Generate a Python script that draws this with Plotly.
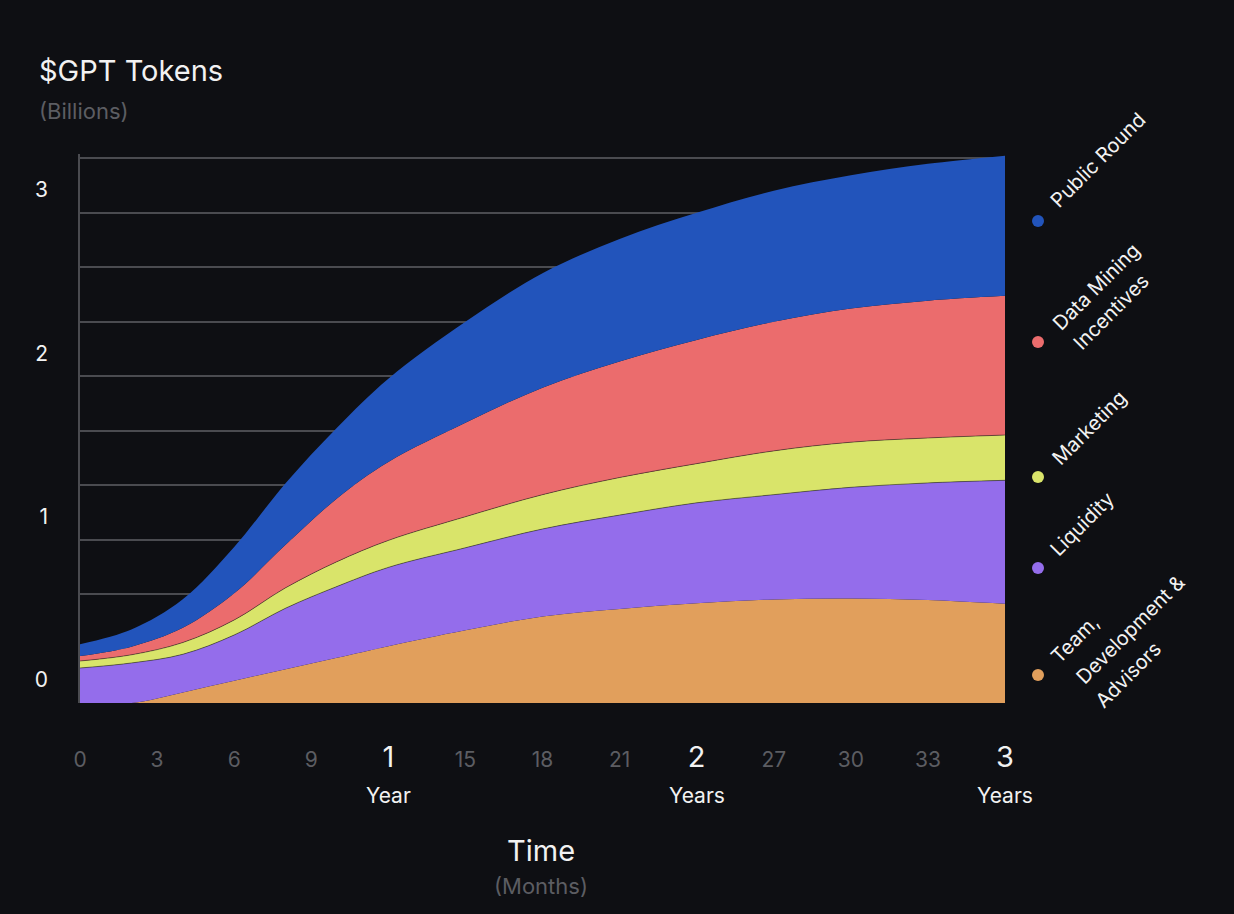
import plotly.graph_objects as go

# months since launch
months = [0, 2, 4, 6, 8, 10, 12, 15, 18, 21, 24, 27, 30, 33, 36]

# $GPT tokens per allocation (billions), bottom to top of the stack
team = [0, 0, 0.065, 0.136, 0.207, 0.277, 0.348, 0.445, 0.53, 0.576, 0.61, 0.634, 0.64, 0.63, 0.607]
liquidity = [0.214, 0.245, 0.233, 0.28, 0.373, 0.436, 0.482, 0.505, 0.535, 0.574, 0.615, 0.641, 0.68, 0.717, 0.756]
marketing = [0.043, 0.05, 0.072, 0.092, 0.125, 0.152, 0.165, 0.19, 0.21, 0.23, 0.24, 0.268, 0.276, 0.275, 0.277]
data_mining = [0.03, 0.05, 0.09, 0.163, 0.263, 0.387, 0.48, 0.575, 0.655, 0.71, 0.757, 0.79, 0.818, 0.84, 0.852]
public_round = [0.073, 0.105, 0.175, 0.284, 0.377, 0.433, 0.51, 0.618, 0.70, 0.75, 0.778, 0.802, 0.816, 0.838, 0.858]

x_ticks = [0, 3, 6, 9, 12, 15, 18, 21, 24, 27, 30, 33, 36]
year_ticks = {12: ("1", "Year"), 24: ("2", "Years"), 36: ("3", "Years")}
y_ticks = [0, 1, 2, 3]

BG = "#0e0f13"
GRID = "#4a4b50"
GRAY = "#5c5d62"
WHITE = "#f2f2f2"
FONT = "Inter"

series = [
    ("Team, Development & Advisors", team, "#e19f5c", 0),
    ("Liquidity", liquidity, "#946deb", 0.6),
    ("Marketing", marketing, "#d9e46a", 0.6),
    ("Data Mining Incentives", data_mining, "#eb6c6d", 0),
    ("Public Round", public_round, "#2254bb", 0),
]

fig = go.Figure()
for name, vals, color, lw in series:
    fig.add_trace(go.Scatter(
        x=months, y=vals, name=name,
        stackgroup="one", mode="lines",
        line=dict(width=lw, color="rgba(20,20,25,0.8)" if lw else color, shape="spline", smoothing=1.0),
        fillcolor=color,
        hoverinfo="skip",
    ))

ticktext = []
for t in x_ticks:
    if t in year_ticks:
        ticktext.append("<span style='font-size:29px;color:%s'>%s</span>" % (WHITE, year_ticks[t][0]))
    else:
        ticktext.append(str(t))

# plot area in pixels: x 80..1005, y 154..703
L, R, T, B = 80, 229, 154, 211
W, H = 1234, 914
pw, ph = W - L - R, H - T - B


def px(x):
    return (x - L) / pw


def py(y):
    return (H - B - y) / ph


annotations = [
    dict(text="$GPT Tokens", x=px(37), y=py(70), xanchor="left", yanchor="middle",
         font=dict(size=29, color=WHITE)),
    dict(text="(Billions)", x=px(37), y=py(111), xanchor="left", yanchor="middle",
         font=dict(size=22, color=GRAY)),
    dict(text="Time", x=px(541), y=py(850), xanchor="center", yanchor="middle",
         font=dict(size=29, color=WHITE)),
    dict(text="(Months)", x=px(541), y=py(886), xanchor="center", yanchor="middle",
         font=dict(size=22, color=GRAY)),
]
for t, (num, word) in year_ticks.items():
    annotations.append(dict(text=word, x=t, xref="x", y=py(795), yref="paper",
                            xanchor="center", yanchor="middle",
                            font=dict(size=21, color=WHITE)))

# rotated legend: dot position, then each text line with its centre
legend_items = [
    ("#2254bb", 221, [("Public Round", 1098, 160)]),
    ("#eb6c6d", 342, [("Data Mining", 1096, 287), ("Incentives", 1111, 312)]),
    ("#d9e46a", 477, [("Marketing", 1089, 428)]),
    ("#946deb", 568, [("Liquidity", 1082, 524)]),
    ("#e19f5c", 675, [("Team,", 1075, 639), ("Development &", 1130, 630), ("Advisors", 1128, 675)]),
]
shapes = []
for color, dot_y, lines in legend_items:
    for label, cx, cy in lines:
        annotations.append(dict(text=label, x=px(cx), y=py(cy), xanchor="center", yanchor="middle",
                                textangle=-45, font=dict(size=20, color=WHITE)))
    shapes.append(dict(type="circle", xref="paper", yref="paper",
                       xsizemode="pixel", ysizemode="pixel",
                       xanchor=px(1038), yanchor=py(dot_y),
                       x0=-6, x1=6, y0=-6, y1=6,
                       fillcolor=color, line=dict(width=0)))

for a in annotations:
    a.setdefault("xref", "paper")
    a.setdefault("yref", "paper")
    a["showarrow"] = False

fig.update_layout(
    width=W, height=H,
    margin=dict(l=L, r=R, t=T, b=B),
    paper_bgcolor=BG, plot_bgcolor=BG,
    font=dict(family=FONT, color=WHITE),
    showlegend=False,
    annotations=annotations,
    shapes=shapes,
    xaxis=dict(
        range=[0, 36], tickmode="array", tickvals=x_ticks, ticktext=ticktext,
        tickfont=dict(size=21, color=GRAY), showgrid=False, zeroline=False,
        showline=False, ticks="", ticklabelstandoff=42,
    ),
    yaxis=dict(
        range=[0, 3.36], tickmode="array", tickvals=y_ticks,
        tickfont=dict(size=21, color=WHITE), ticks="",
        showgrid=True, gridcolor=GRID, gridwidth=1.5, zeroline=False,
        showline=True, linecolor=GRID, linewidth=1.5,
        ticklabelstandoff=26, ticklabelshift=-23,
        minor=dict(tickvals=[k / 3 for k in range(11)], showgrid=True,
                   gridcolor=GRID, gridwidth=1.5, ticks=""),
    ),
)

fig.write_html(
    "out.html",
    config={"displayModeBar": False},
    post_script="document.body.style.margin='0';document.body.style.background='%s';" % BG,
)
